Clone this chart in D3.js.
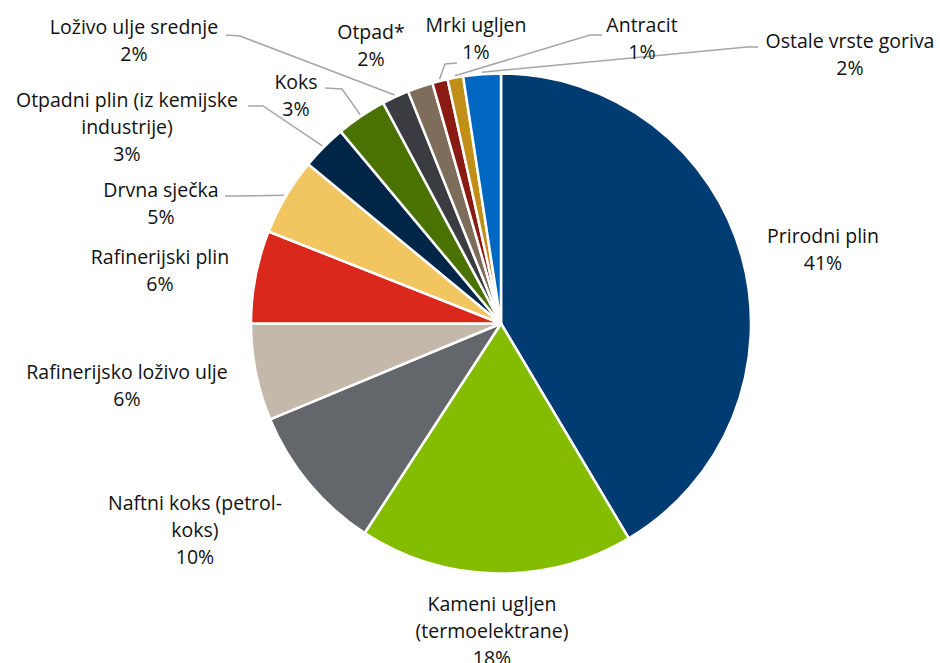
<!DOCTYPE html>
<html lang="hr">
<head>
  <meta charset="UTF-8">
  <title>Struktura goriva</title>
  <script src="https://d3js.org/d3.v7.min.js"></script>
  <style>
    body {
      margin: 0;
      background: #fff;
      font-family: 'Open Sans', 'Noto Sans', sans-serif;
    }
    .label {
      font-size: 19.5px;
      fill: #111;
    }
    .leader {
      fill: none;
      stroke: #a6a6a6;
      stroke-width: 1.5;
    }
  </style>
</head>
<body>
  <svg width="940" height="663"></svg>
  <script>
    // data (shares in %)
    const fuels = [
      "Prirodni plin", "Kameni ugljen (termoelektrane)", "Naftni koks (petrol-koks)",
      "Rafinerijsko loživo ulje", "Rafinerijski plin", "Drvna sječka",
      "Otpadni plin (iz kemijske industrije)", "Koks", "Loživo ulje srednje",
      "Otpad*", "Mrki ugljen", "Antracit", "Ostale vrste goriva"
    ];
    const shares = [41.46, 17.72, 9.56, 6.26, 6.0, 4.99, 2.94, 3.26, 1.75, 1.64, 0.99, 1.01, 2.42];
    const colors = [
      "#003b71", "#84bd00", "#63666a", "#c4b8ab", "#da291c", "#f1c660",
      "#002647", "#4a7200", "#3b3c41", "#7e6d5b", "#8a1b12", "#c18f17", "#0068c2"
    ];

    // label text lines and positions (layout only)
    const labelLines = [
      ["Prirodni plin"], ["Kameni ugljen", "(termoelektrane)"], ["Naftni koks (petrol-", "koks)"],
      ["Rafinerijsko loživo ulje"], ["Rafinerijski plin"], ["Drvna sječka"],
      ["Otpadni plin (iz kemijske", "industrije)"], ["Koks"], ["Loživo ulje srednje"],
      ["Otpad*"], ["Mrki ugljen"], ["Antracit"], ["Ostale vrste goriva"]
    ];
    const labelPos = [
      [823, 243], [492, 611], [195, 510], [127, 379], [160, 264], [161, 197],
      [127, 107], [296, 89], [134, 34], [371, 39], [476, 32], [642, 32], [850, 48]
    ];
    // leader start points and elbow (null = no leader)
    const leaderStart = [
      null, null, null, null, null, [225, 196],
      [248, 106], [325, 88], [226, 35], null, [457, 63], [602, 35], [758, 47]
    ];
    const leaderElbow = [
      null, null, null, null, null, [240, 196],
      [263, 106], [342, 89], [240, 36], null, [445, 64], [590, 35], [747, 47]
    ];

    const svg = d3.select("svg");
    const cx = 501, cy = 323.5, radius = 250;
    const lineH = 27;

    const g = svg.append("g").attr("transform", `translate(${cx},${cy})`);

    const pie = d3.pie().sort(null).value(d => d)(shares);
    const arc = d3.arc().innerRadius(0).outerRadius(radius);
    const outer = d3.arc().innerRadius(radius + 2).outerRadius(radius + 2);

    g.selectAll("path.slice")
      .data(pie)
      .join("path")
      .attr("class", "slice")
      .attr("d", arc)
      .attr("fill", (d, i) => colors[i])
      .attr("stroke", "#fff")
      .attr("stroke-width", 2.5)
      .attr("stroke-linejoin", "round");

    // leader lines
    pie.forEach((d, i) => {
      if (!leaderStart[i]) return;
      const [ex, ey] = outer.centroid(d);
      const pts = [leaderStart[i], leaderElbow[i], [cx + ex, cy + ey]];
      svg.append("path")
        .attr("class", "leader")
        .attr("d", d3.line()(pts));
    });

    // labels
    const labels = svg.append("g");
    pie.forEach((d, i) => {
      const [x, y] = labelPos[i];
      const rows = labelLines[i].concat([Math.round(shares[i]) + "%"]);
      const t = labels.append("text")
        .attr("class", "label")
        .attr("text-anchor", "middle")
        .attr("x", x)
        .attr("y", y);
      rows.forEach((r, k) => {
        t.append("tspan")
          .attr("x", x)
          .attr("dy", k === 0 ? 0 : lineH)
          .text(r);
      });
    });
  </script>
</body>
</html>
